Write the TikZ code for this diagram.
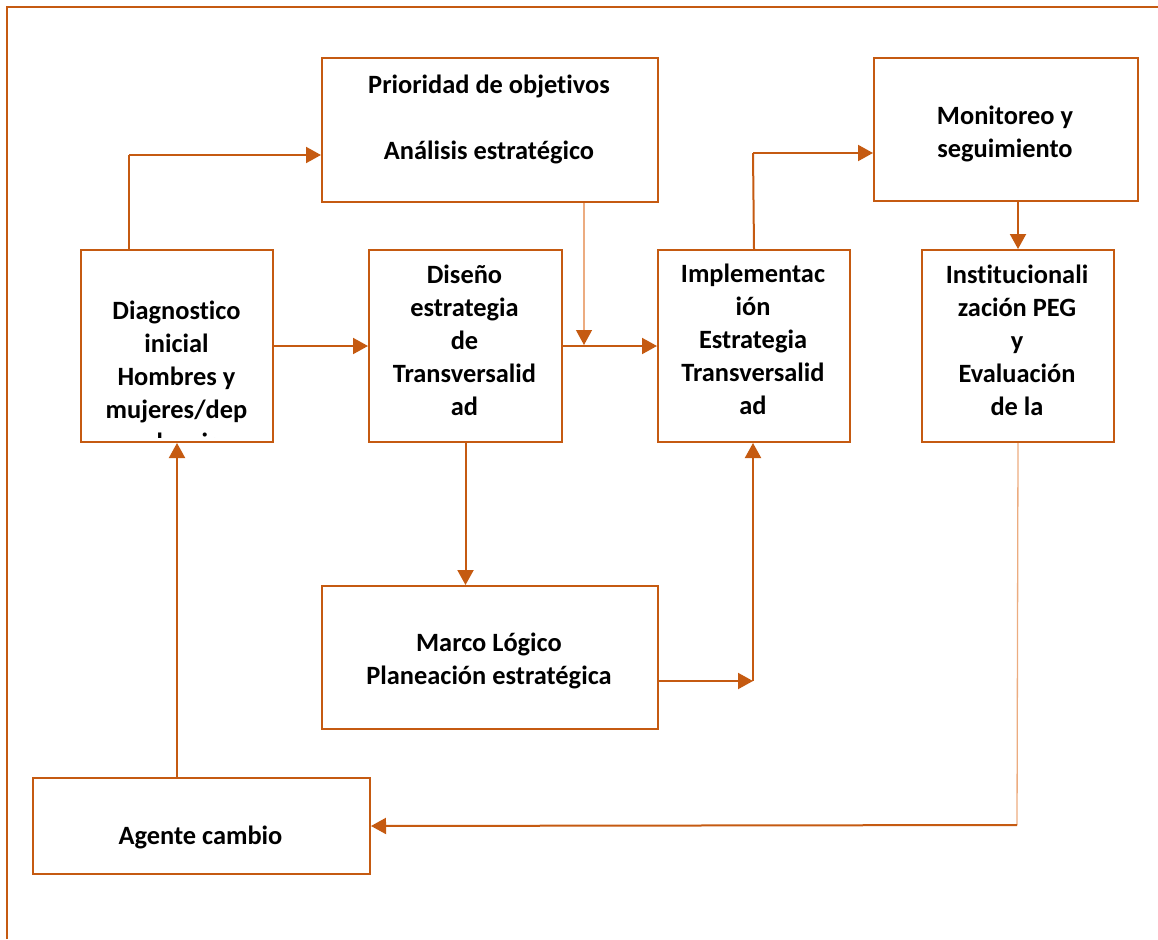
\documentclass[tikz,border=0pt]{standalone}
\usepackage{fontspec}
\setmainfont{Carlito}[RawFeature={-liga}]
\usetikzlibrary{arrows.meta}
\definecolor{acc}{RGB}{197,90,17}
\definecolor{accl}{RGB}{236,172,128}
\begin{document}
\begin{tikzpicture}[x=1pt,y=-1pt,
  box/.style={draw=acc, line width=2pt, inner sep=0pt, anchor=north west},
  txt/.style={font=\bfseries\fontsize{26.4}{33}\selectfont, align=center, inner sep=0pt, text=black},
  conn/.style={draw=acc, line width=2pt},
  arr/.style={conn, -{Triangle[length=15pt,width=16pt]}},
  thinl/.style={draw=accl, line width=1.3pt},
  thinarr/.style={thinl, -{Triangle[length=15pt,width=16pt,color=acc]}},
  frame/.style={draw=acc, line width=2pt}]
\useasboundingbox (0,0) rectangle (1158,939);
\draw[frame] (7,939) -- (7,7) -- (1158,7);

% boxes
\node[box, minimum width=336pt, minimum height=144pt] (prio) at (321,57) {};
\node[box, minimum width=264pt, minimum height=143pt] (mon) at (873,57) {};
\node[box, minimum width=192pt, minimum height=192pt] (diag) at (80,249) {};
\node[box, minimum width=193pt, minimum height=192pt] (dis) at (368,249) {};
\node[box, minimum width=192pt, minimum height=192pt] (impl) at (657,249) {};
\node[box, minimum width=192pt, minimum height=192pt] (inst) at (921,249) {};
\node[box, minimum width=336pt, minimum height=143pt] (marco) at (321,585) {};
\node[box, minimum width=337pt, minimum height=96pt] (agente) at (32,777) {};

% texts
\node[txt] (tprio) at (489,120) {\strut Prioridad de objetivos\\ \\Análisis estratégico\strut};
\node[txt] (tmon) at (1005,134) {\strut Monitoreo y\\seguimiento\strut};
\begin{scope}
\clip (81,250) rectangle (271,437);
\node[txt] (tdiag) at (176.5,379) {\strut Diagnostico\\inicial\\ Hombres y\\mujeres/dep\\endencias\strut};
\end{scope}
\node[txt] (tdis) at (464.5,343) {\strut Diseño\\estrategia\\de\\Transversalid\\ad\strut};
\node[txt] (timpl) at (753,342) {\strut Implementac\\ión\\Estrategia\\Transversalid\\ad\strut};
\node[txt] (tinst) at (1017,343) {\strut Institucionali\\zación PEG\\y\\Evaluación\\de la\strut};
\node[txt] (tmarco) at (489,661.5) {\strut Marco Lógico\\Planeación estratégica\strut};
\node[txt] (tagente) at (200.5,838) {\strut Agente cambio\strut};

% connectors
\coordinate (k1) at (129,155);
\draw[conn] (diag.north -| k1) -- (k1);
\draw[arr] (k1) -- (prio.west |- k1);
\draw[arr] (diag.east) -- (dis.west);
\draw[arr] (dis.east) -- (impl.west);
\coordinate (k2) at (584,345);
\draw[thinarr] (prio.south -| k2) -- (k2);
\draw[arr] (dis.south) -- (dis.south |- marco.north);
\coordinate (k3) at (753,681);
\draw[arr] (marco.east |- k3) -- (k3);
\draw[arr] (k3) -- (impl.south -| k3);
\coordinate (k4) at (753,153);
\draw[conn] (impl.north) -- (k4);
\draw[arr] (k4) -- (mon.west |- k4);
\draw[arr] (inst.north |- mon.south) -- (inst.north);
\coordinate (k5) at (1017,825);
\draw[thinl] (inst.south) -- (k5);
\draw[arr] (k5) -- (agente.east);
\draw[arr] (diag.south |- agente.north) -- (diag.south);
\end{tikzpicture}
\end{document}
